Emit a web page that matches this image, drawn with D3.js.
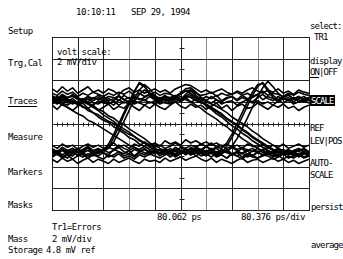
<!DOCTYPE html>
<html>
<head>
<meta charset="utf-8">
<script src="https://cdn.jsdelivr.net/npm/d3@7"></script>
<style>
    body { margin: 0; background: #fff; }
    svg { display: block; }
    text { font-family: 'DejaVu Sans Mono', monospace; font-size: 9px; fill: #000; letter-spacing: -0.5px; }
    text.narrow { letter-spacing: -0.9px; }
</style>
</head>
<body>
<div class="js-canvas"></div>
<script>
'use strict';

// timebase + vertical settings
const timeCenterPs = 80.062;
const psPerDiv = 80.376;
const refMv = 4.8;
const mvPerDiv = 2;

// stored traces, mV, one sample every 0.2 div across the 10 divs
const sampleStepDiv = 0.2;

const traceHigh1 = [
    7.3, 7.0, 7.4, 7.1, 7.5, 7.2, 6.9, 7.3, 7.1, 7.4,
    7.0, 7.3, 7.2, 6.9, 7.4, 7.1, 7.3, 7.0, 7.2, 7.5,
    7.1, 6.9, 7.3, 7.2, 7.4, 7.0, 7.3, 7.6, 7.2, 7.0,
    7.3, 7.1, 7.4, 6.9, 7.2, 7.3, 7.0, 7.4, 7.1, 7.2,
    7.5, 7.0, 7.3, 7.1, 6.9, 7.2, 7.4, 7.1, 7.3, 7.0,
    7.2
];
const traceHigh2 = [
    6.9, 6.6, 7.0, 6.7, 6.9, 6.5, 6.8, 7.1, 6.7, 6.6,
    6.9, 6.8, 6.5, 7.0, 6.7, 6.9, 6.6, 6.8, 7.0, 6.7,
    6.9, 6.6, 6.8, 7.1, 7.3, 7.6, 8.0, 8.1, 7.7, 7.2,
    6.9, 6.7, 7.0, 6.6, 6.8, 6.9, 6.5, 6.8, 7.0, 6.7,
    6.9, 6.6, 6.8, 6.5, 6.9, 6.7, 7.0, 6.6, 6.8, 6.9,
    6.7
];
const traceHigh3 = [
    7.6, 7.4, 7.8, 7.5, 7.7, 7.3, 7.6, 7.4, 7.7, 7.5,
    7.3, 7.6, 7.4, 7.7, 7.5, 7.8, 7.4, 7.6, 7.3, 7.5,
    7.7, 7.4, 7.6, 7.5, 7.3, 7.6, 7.8, 7.9, 7.6, 7.4,
    7.5, 7.7, 7.3, 7.6, 7.4, 7.5, 7.7, 7.4, 7.6, 7.3,
    7.5, 7.8, 7.4, 7.6, 7.5, 7.3, 7.6, 7.4, 7.7, 7.5,
    7.4
];
const traceHigh4 = [
    6.5, 6.1, 6.6, 6.3, 6.0, 6.4, 6.7, 6.2, 6.5, 6.0,
    6.3, 6.6, 6.1, 6.4, 6.2, 6.7, 6.3, 6.0, 6.5, 6.2,
    6.6, 6.3, 6.1, 6.5, 6.8, 6.4, 6.2, 6.6, 6.3, 6.5,
    6.1, 6.4, 6.7, 6.2, 6.5, 6.0, 6.4, 6.6, 6.2, 6.3,
    6.7, 6.4, 6.1, 6.5, 6.3, 6.6, 6.2, 6.4, 6.0, 6.3,
    6.5
];
const traceHigh5 = [
    8.0, 7.7, 8.2, 7.8, 8.1, 7.6, 7.9, 8.2, 7.7, 7.9,
    7.6, 8.0, 7.8, 7.5, 7.9, 8.1, 7.7, 7.9, 7.6, 7.8,
    8.0, 7.7, 7.9, 7.6, 8.0, 8.2, 8.4, 8.3, 8.0, 7.7,
    7.9, 7.6, 7.8, 8.0, 7.7, 7.5, 7.8, 7.6, 7.9, 8.1,
    7.8, 7.6, 7.9, 7.7, 8.0, 7.6, 7.8, 7.5, 7.9, 7.7,
    7.6
];
const traceLow1 = [
    2.2, 1.9, 2.4, 2.1, 2.3, 1.8, 2.2, 2.5, 2.0, 2.3,
    2.1, 1.9, 2.4, 2.2, 2.0, 2.3, 1.8, 2.2, 2.4, 2.1,
    2.3, 2.0, 2.5, 2.2, 1.9, 2.3, 2.1, 2.6, 2.4, 2.2,
    2.7, 2.3, 2.5, 2.1, 2.4, 2.0, 2.2, 2.5, 1.9, 2.3,
    2.1, 2.4, 2.0, 2.2, 2.5, 2.1, 1.9, 2.3, 2.2, 2.4,
    2.1
];
const traceLow2 = [
    1.7, 2.0, 1.6, 1.9, 1.5, 1.8, 2.0, 1.6, 1.9, 1.7,
    1.5, 1.9, 1.7, 2.0, 1.6, 1.8, 1.5, 1.9, 1.7, 2.0,
    1.8, 1.6, 1.9, 2.1, 1.7, 2.0, 2.2, 1.9, 2.3, 2.0,
    1.8, 2.1, 1.7, 1.9, 1.6, 2.0, 1.8, 1.5, 1.9, 1.7,
    1.6, 1.9, 1.8, 1.5, 1.7, 2.0, 1.6, 1.8, 1.9, 1.6,
    1.8
];
const traceLow3 = [
    2.5, 2.2, 2.6, 2.3, 2.5, 2.2, 2.4, 2.7, 2.3, 2.5,
    2.2, 2.6, 2.4, 2.8, 2.5, 2.3, 2.6, 2.4, 2.7, 2.9,
    2.6, 2.8, 2.5, 2.7, 3.0, 2.7, 2.5, 2.8, 2.6, 2.9,
    2.7, 3.0, 2.6, 2.8, 2.5, 2.7, 2.4, 2.6, 2.3, 2.5,
    2.2, 2.4, 2.6, 2.3, 2.5, 2.2, 2.4, 2.1, 2.3, 2.5,
    2.2
];
const traceLow4 = [
    1.5, 1.2, 1.6, 1.3, 1.5, 1.1, 1.4, 1.6, 1.2, 1.5,
    1.3, 1.1, 1.5, 1.2, 1.4, 1.6, 1.3, 1.1, 1.5, 1.3,
    1.4, 1.2, 1.6, 1.3, 1.5, 1.7, 1.4, 1.6, 1.8, 1.5,
    1.3, 1.6, 1.2, 1.5, 1.3, 1.1, 1.4, 1.6, 1.2, 1.4,
    1.5, 1.2, 1.4, 1.6, 1.3, 1.5, 1.2, 1.4, 1.1, 1.3,
    1.5
];
const traceLow5 = [
    2.8, 2.5, 2.9, 2.6, 2.8, 2.4, 2.7, 2.9, 2.6, 2.8,
    2.5, 2.7, 3.0, 2.6, 2.8, 2.5, 2.9, 2.7, 3.1, 2.8,
    3.0, 2.7, 3.2, 2.9, 3.1, 2.8, 3.3, 3.0, 3.2, 2.9,
    3.1, 2.8, 3.0, 2.7, 2.9, 2.6, 2.8, 2.5, 2.9, 2.7,
    2.6, 2.9, 2.5, 2.8, 2.6, 2.9, 2.5, 2.7, 2.9, 2.6,
    2.8
];
// 1 -> 0 on the first edge
const traceFall1 = [
    7.2, 6.9, 7.3, 7.0, 6.9, 6.6, 6.4, 6.0, 5.8, 5.4,
    5.1, 4.9, 4.5, 4.2, 3.9, 3.5, 3.3, 2.9, 2.7, 2.4,
    2.3, 2.0, 2.2, 1.9, 2.3, 2.1, 2.4, 2.2, 2.5, 2.3,
    2.1, 2.4, 2.0, 2.3, 2.1, 1.9, 2.2, 2.0, 2.3, 1.8,
    2.1, 1.9, 2.2, 2.0, 1.7, 2.1, 2.3, 1.9, 2.0, 2.2,
    1.9
];
const traceFall1b = [
    7.4, 7.1, 7.5, 7.2, 7.3, 7.1, 6.8, 6.6, 6.3, 6.0,
    5.6, 5.3, 5.0, 4.6, 4.3, 4.0, 3.6, 3.3, 3.0, 2.6,
    2.4, 2.1, 1.9, 2.2, 1.8, 2.0, 2.3, 1.9, 2.1, 1.8,
    2.0, 1.7, 2.1, 1.9, 1.6, 2.0, 1.8, 2.1, 1.7, 1.9,
    1.6, 1.8, 2.0, 1.7, 1.9, 1.5, 1.8, 1.6, 1.9, 1.7,
    1.8
];
const traceFall1c = [
    7.0, 6.8, 6.5, 6.3, 6.0, 5.7, 5.5, 5.1, 4.9, 4.6,
    4.3, 4.0, 3.7, 3.4, 3.1, 2.8, 2.6, 2.3, 2.1, 1.9,
    2.2, 1.8, 2.1, 1.7, 2.0, 2.3, 1.9, 2.2, 1.8, 2.1,
    1.9, 2.2, 1.8, 2.0, 2.3, 1.9, 2.1, 1.7, 2.0, 1.8,
    2.2, 1.9, 2.1, 1.8, 2.0, 2.3, 1.9, 2.1, 1.7, 2.0,
    2.1
];
const traceFall1d = [
    6.6, 7.0, 6.7, 6.9, 6.6, 6.8, 6.9, 6.6, 6.4, 6.1,
    5.9, 5.5, 5.3, 4.9, 4.7, 4.3, 4.0, 3.7, 3.4, 3.0,
    2.8, 2.5, 2.3, 2.0, 2.4, 2.1, 2.5, 2.2, 2.6, 2.4,
    2.2, 2.5, 2.1, 2.4, 2.2, 2.6, 2.3, 2.0, 2.4, 2.2,
    2.5, 2.1, 2.3, 2.0, 2.2, 2.4, 2.1, 2.3, 2.5, 2.2,
    2.0
];
// 1 -> 0 -> 1
const traceFallRise = [
    6.8, 7.1, 6.7, 7.0, 6.8, 6.7, 6.3, 6.2, 5.8, 5.6,
    5.3, 5.0, 4.8, 4.4, 4.1, 3.8, 3.6, 3.2, 3.0, 2.7,
    2.5, 2.3, 2.0, 2.3, 1.9, 2.2, 2.0, 2.4, 2.1, 2.3,
    2.0, 2.2, 1.9, 2.1, 2.7, 3.5, 4.4, 5.4, 6.4, 7.4,
    8.2, 8.6, 8.0, 7.4, 7.0, 7.3, 6.9, 7.2, 6.8, 7.1,
    6.9
];
// 0 -> 1 on the first edge
const traceRise1 = [
    2.0, 2.3, 1.9, 2.2, 2.0, 2.4, 2.1, 1.8, 2.2, 2.0,
    2.3, 2.9, 3.8, 4.8, 5.8, 6.8, 7.8, 8.5, 8.2, 7.6,
    7.2, 6.9, 7.3, 7.0, 7.2, 6.8, 7.1, 7.4, 7.0, 7.2,
    6.9, 7.3, 7.0, 6.8, 7.1, 7.3, 6.9, 7.2, 7.0, 6.8,
    7.2, 7.5, 7.1, 6.9, 7.3, 7.0, 7.2, 6.8, 7.1, 7.3,
    7.0
];
// 0 -> 1 -> 0
const traceRiseFall = [
    1.7, 2.0, 1.8, 1.6, 2.1, 1.9, 1.7, 2.0, 1.8, 2.1,
    2.2, 2.6, 3.5, 4.5, 5.6, 6.6, 7.7, 8.6, 8.3, 7.5,
    7.0, 6.8, 7.1, 6.7, 7.0, 6.9, 7.2, 6.8, 7.0, 6.7,
    6.6, 6.3, 6.0, 5.7, 5.3, 5.0, 4.7, 4.3, 4.0, 3.6,
    3.3, 3.0, 2.7, 2.4, 2.2, 1.9, 2.1, 1.8, 2.0, 1.7,
    1.9
];
const traceRiseFallB = [
    2.3, 2.0, 2.4, 2.2, 2.5, 2.1, 2.3, 2.6, 2.2, 2.4,
    2.3, 2.5, 3.1, 4.0, 5.0, 6.0, 7.0, 7.9, 8.4, 8.0,
    7.4, 7.1, 7.4, 6.9, 7.2, 7.5, 7.8, 7.6, 7.2, 6.9,
    6.4, 6.1, 5.7, 5.4, 5.0, 4.6, 4.3, 3.9, 3.6, 3.2,
    2.9, 2.6, 2.3, 2.1, 2.4, 2.0, 2.3, 2.1, 2.4, 2.2,
    2.0
];
// 1 -> 0 on the second edge
const traceFall2 = [
    7.0, 7.3, 6.9, 7.2, 7.4, 7.0, 7.1, 6.8, 7.2, 7.0,
    7.3, 6.9, 7.1, 7.4, 7.0, 6.8, 7.2, 7.1, 6.9, 7.3,
    7.0, 7.2, 6.9, 7.1, 7.3, 7.0, 7.4, 7.2, 6.9, 6.8,
    6.5, 6.2, 5.9, 5.6, 5.2, 4.9, 4.6, 4.2, 3.9, 3.5,
    3.2, 2.9, 2.6, 2.4, 2.1, 2.3, 2.0, 2.2, 1.9, 2.1,
    2.0
];
const traceFall2b = [
    6.6, 6.9, 6.7, 6.5, 6.8, 6.6, 7.0, 6.7, 6.5, 6.9,
    6.7, 6.6, 6.9, 6.5, 6.8, 6.6, 6.9, 6.7, 6.5, 6.8,
    6.6, 6.9, 6.7, 6.6, 6.8, 7.0, 7.5, 7.9, 7.4, 7.0,
    6.8, 6.6, 6.4, 6.1, 5.8, 5.4, 5.1, 4.8, 4.5, 4.1,
    3.8, 3.4, 3.1, 2.8, 2.5, 2.3, 2.0, 2.2, 1.9, 2.1,
    1.8
];
const traceFall2c = [
    7.1, 6.8, 7.2, 6.9, 7.1, 6.7, 7.0, 7.3, 6.9, 7.2,
    6.8, 7.1, 6.9, 7.3, 7.0, 7.2, 6.8, 7.5, 7.9, 7.6,
    7.3, 7.0, 7.2, 6.9, 7.1, 7.3, 7.0, 6.8, 6.5, 6.2,
    5.8, 5.5, 5.2, 4.8, 4.5, 4.1, 3.8, 3.4, 3.1, 2.8,
    2.5, 2.3, 2.0, 2.2, 1.8, 2.1, 1.9, 2.2, 1.8, 2.0,
    1.9
];
// 0 -> 1 on the second edge
const traceRise2 = [
    2.4, 2.1, 2.3, 2.0, 2.2, 2.5, 2.1, 2.3, 2.0, 2.2,
    2.4, 2.1, 2.3, 2.6, 2.2, 2.0, 2.4, 2.2, 2.5, 2.1,
    2.3, 2.0, 2.4, 2.2, 2.6, 2.3, 2.1, 2.5, 2.2, 2.4,
    2.7, 2.4, 2.6, 2.5, 3.0, 3.8, 4.8, 5.8, 6.8, 7.7,
    8.4, 8.5, 7.8, 7.2, 6.8, 7.1, 6.9, 7.2, 7.0, 6.8,
    7.1
];
const traceRise2b = [
    1.8, 2.1, 1.7, 2.0, 1.8, 2.2, 1.9, 1.6, 2.0, 1.8,
    2.1, 1.7, 1.9, 2.2, 1.8, 2.0, 1.7, 2.1, 1.9, 2.3,
    2.0, 2.4, 2.1, 2.5, 2.2, 2.6, 2.3, 2.0, 2.4, 2.1,
    2.3, 2.0, 2.2, 2.1, 2.2, 2.7, 3.4, 4.3, 5.3, 6.3,
    7.3, 8.1, 8.7, 8.2, 7.6, 7.2, 7.5, 7.0, 7.3, 6.9,
    7.2
];

const traces = [
    traceHigh1, traceHigh2, traceHigh3, traceHigh4, traceHigh5,
    traceLow1, traceLow2, traceLow3, traceLow4, traceLow5,
    traceFall1, traceFall1b, traceFall1c, traceFall1d, traceFallRise,
    traceRise1, traceRiseFall, traceRiseFallB,
    traceFall2, traceFall2b, traceFall2c, traceRise2, traceRise2b
];

// screen texts
const timeStamp = ['10:10:11', 'SEP 29, 1994'];
const leftMenu = ['Setup', 'Trg,Cal', 'Traces', 'Measure', 'Markers', 'Masks'];
const rightMenu = ['select:', 'TR1', 'display', 'ON|OFF', 'SCALE', 'REF', 'LEV|POS', 'AUTO-', 'SCALE', 'persist', 'average'];
const scaleBox = ['volt scale:', '2 mV/div'];
const statusLines = ['Tr1=Errors', '2 mV/div', '4.8 mV ref'];
const statusNames = ['Mass', 'Storage'];
const timeLabels = [timeCenterPs.toFixed(3) + ' ps', psPerDiv.toFixed(3) + ' ps/div'];

const config = {
    width: 343,
    height: 259,
    grid: { left: 52, right: 309, top: 37, bottom: 210 },
    xDivs: 10,
    yDivs: 8,
    grayCols: [3, 6, 8],
    leftX: 8,
    leftY: [34, 66, 104, 140, 175, 208],
    rightX: [310, 314, 310, 310, 311, 310, 310, 310, 310, 311, 311],
    rightY: [29, 40, 64, 75, 104, 131, 144, 166, 178, 210, 248]
};

const g = config.grid;

const svg = d3.select('.js-canvas')
    .append('svg')
    .attr('width', config.width)
    .attr('height', config.height)
    ;

const x = d3.scaleLinear()
    .domain([timeCenterPs - psPerDiv * config.xDivs / 2, timeCenterPs + psPerDiv * config.xDivs / 2])
    .range([g.left, g.right])
    ;

const y = d3.scaleLinear()
    .domain([refMv - mvPerDiv * config.yDivs / 2, refMv + mvPerDiv * config.yDivs / 2])
    .range([g.bottom, g.top])
    ;

const t0 = x.domain()[0];
const crisp = v => Math.round(v) + 0.5;

// graticule
const colTimes = d3.range(config.xDivs + 1).map(k => t0 + k * psPerDiv);
const rowVolts = d3.range(config.yDivs + 1).map(k => y.domain()[0] + k * mvPerDiv);

svg.append('g')
    .selectAll('line')
    .data(colTimes)
    .enter().append('line')
    .attr('x1', d => crisp(x(d)))
    .attr('x2', d => crisp(x(d)))
    .attr('y1', g.top)
    .attr('y2', g.bottom + 1)
    .attr('stroke', (d, i) => config.grayCols.includes(i) ? '#8a8a8a' : '#222')
    ;

svg.append('g')
    .selectAll('line')
    .data(rowVolts)
    .enter().append('line')
    .attr('x1', g.left)
    .attr('x2', g.right + 1)
    .attr('y1', d => crisp(y(d)))
    .attr('y2', d => crisp(y(d)))
    .attr('stroke', '#222')
    ;

// minor ticks on the centre lines
const cx = crisp(x(timeCenterPs));
const cy = crisp(y(refMv));

svg.append('g')
    .selectAll('line')
    .data(d3.range(config.xDivs * 5 + 1).map(k => t0 + k * psPerDiv / 5))
    .enter().append('line')
    .attr('x1', d => crisp(x(d)))
    .attr('x2', d => crisp(x(d)))
    .attr('y1', cy - 2)
    .attr('y2', cy + 2)
    .attr('stroke', '#222')
    ;

svg.append('g')
    .selectAll('line')
    .data(d3.range(config.yDivs * 2 + 1).map(k => y.domain()[0] + k * mvPerDiv / 2))
    .enter().append('line')
    .attr('x1', cx - 2)
    .attr('x2', cx + 3)
    .attr('y1', d => crisp(y(d)))
    .attr('y2', d => crisp(y(d)))
    .attr('stroke', '#222')
    ;

// eye traces
svg.append('clipPath')
    .attr('id', 'screen')
    .append('rect')
    .attr('x', g.left)
    .attr('y', g.top)
    .attr('width', g.right - g.left + 1)
    .attr('height', g.bottom - g.top + 1)
    ;

const line = d3.line()
    .x((d, i) => x(t0 + i * sampleStepDiv * psPerDiv))
    .y(d => y(d))
    ;

svg.append('g')
    .attr('clip-path', 'url(#screen)')
    .selectAll('path')
    .data(traces)
    .enter().append('path')
    .attr('d', line)
    .attr('fill', 'none')
    .attr('stroke', '#000')
    .attr('stroke-width', 1.6)
    .attr('stroke-linejoin', 'round')
    ;

// volt scale readout, drawn straight over the graticule
svg.append('g')
    .selectAll('text')
    .data(scaleBox)
    .enter().append('text')
    .attr('x', g.left + 5)
    .attr('y', (d, i) => g.top + 18 + i * 10)
    .text(d => d)
    ;

// top timestamp
svg.append('g')
    .selectAll('text')
    .data(timeStamp)
    .enter().append('text')
    .attr('x', (d, i) => i === 0 ? 76 : 131)
    .attr('y', 15)
    .text(d => d)
    ;

// softkeys on the left
svg.append('g')
    .selectAll('text')
    .data(leftMenu)
    .enter().append('text')
    .attr('x', config.leftX)
    .attr('y', (d, i) => config.leftY[i])
    .text(d => d)
    ;

svg.append('line')
    .attr('x1', config.leftX)
    .attr('x2', config.leftX + 29)
    .attr('y1', 106.5)
    .attr('y2', 106.5)
    .attr('stroke', '#000')
    ;

// softkeys on the right
svg.append('rect')
    .attr('x', 310)
    .attr('y', 95)
    .attr('width', 25)
    .attr('height', 11)
    .attr('fill', '#000')
    ;

svg.append('g')
    .selectAll('text')
    .data(rightMenu)
    .enter().append('text')
    .attr('class', 'narrow')
    .attr('x', (d, i) => config.rightX[i])
    .attr('y', (d, i) => config.rightY[i])
    .style('fill', (d, i) => i === 4 ? '#fff' : '#000')
    .text(d => d)
    ;

svg.append('line')
    .attr('x1', 310)
    .attr('x2', 319)
    .attr('y1', 77.5)
    .attr('y2', 77.5)
    .attr('stroke', '#000')
    ;

// time readouts under the screen
svg.append('g')
    .selectAll('text')
    .data(timeLabels)
    .enter().append('text')
    .attr('x', (d, i) => i === 0 ? 157 : 241)
    .attr('y', 220)
    .text(d => d)
    ;

// status lines at the bottom
svg.append('g')
    .selectAll('text')
    .data(statusLines)
    .enter().append('text')
    .attr('x', (d, i) => i === 2 ? 46 : 52)
    .attr('y', (d, i) => 230 + i * 11.5)
    .text(d => d)
    ;

svg.append('g')
    .selectAll('text')
    .data(statusNames)
    .enter().append('text')
    .attr('x', config.leftX)
    .attr('y', (d, i) => 241.5 + i * 11.5)
    .text(d => d)
    ;
</script>
</body>
</html>
